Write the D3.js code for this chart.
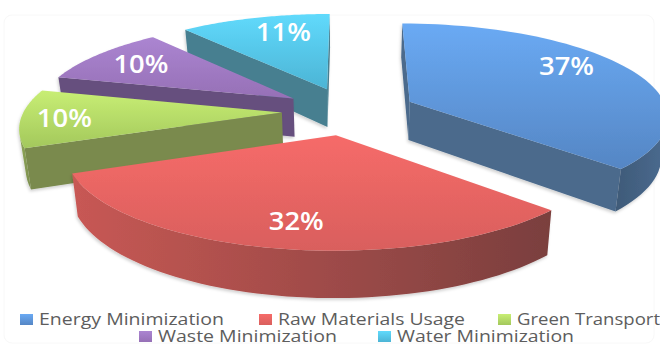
<!DOCTYPE html>
<html>
<head>
<meta charset="utf-8">
<script src="https://cdn.jsdelivr.net/npm/d3@7"></script>
<style>
html,body{margin:0;padding:0;background:#fff;overflow:hidden}
svg{display:block}
</style>
</head>
<body>
<svg id="chart" width="660" height="347"></svg>
<script>
// Share of each green-process category, in percent
const categories = ["Energy Minimization", "Raw Materials Usage", "Green Transport", "Waste Minimization", "Water Minimization"];
const shares = [37, 32, 10, 10, 11];

// Face colours per category
const topLight = ["#6aaaf4", "#f66b69", "#c8ee74", "#ab85d1", "#60dafc"];
const topDark = ["#5586c4", "#d95f5d", "#a3c85c", "#9670b6", "#4cb4d5"];
const rimStart = ["#4a6b90", "#7a3f3e", "#7a8c4e", "#6a5180", "#467e8f"];
const rimEnd = ["#3f5a78", "#c85854", "#8fa856", "#6a5180", "#467e8f"];
const flank = ["#4b6a8c", "#8a4444", "#7a8a4e", "#66507e", "#477f90"];

// Legend rows
const legendRow = [0, 0, 0, 1, 1];
const legendSwatchX = [20, 259, 498, 139, 378];
const legendTextWidth = [185, 187, 143, 179, 177];

const width = 660, height = 347;

// Camera: a tilted disc seen in perspective, unit radius in plan
const centre = { x: 349, y: 111 };
const scaleX = 258, scaleY = 91.6, recede = 0.141, wallDrop = 39, wallTaper = 0.98;
const explode = 0.26;
const labelRadius = [0.79, 0.78, 0.834, 0.774, 0.764];
const labelTurn = [-9, -1.5, -0.7, 0.4, 4.5];

// World plane: x right, y toward the viewer, angle clockwise from the back
function project(x, y, lowered) {
  const s = 1 / (1 - recede * y);
  const taper = lowered ? wallTaper : 1;
  return [
    centre.x + scaleX * x * s * taper,
    centre.y + scaleY * y * s + (lowered ? wallDrop * s : 0)
  ];
}

const svg = d3.select("#chart");
const defs = svg.append("defs");

const shadow = defs.append("filter").attr("id", "soft")
  .attr("x", "-10%").attr("y", "-10%").attr("width", "120%").attr("height", "125%");
shadow.append("feDropShadow").attr("dx", -1).attr("dy", 2).attr("stdDeviation", 1.6)
  .attr("flood-color", "#000").attr("flood-opacity", 0.18);

categories.forEach((c, i) => {
  const g = defs.append("linearGradient").attr("id", "face" + i)
    .attr("x1", 0).attr("y1", 0).attr("x2", 0).attr("y2", 1);
  g.append("stop").attr("offset", 0).attr("stop-color", topLight[i]);
  g.append("stop").attr("offset", 1).attr("stop-color", topDark[i]);

  // Outer wall shading runs across the slice, right to left
  const r = defs.append("linearGradient").attr("id", "rim" + i)
    .attr("x1", 1).attr("y1", 0).attr("x2", 0).attr("y2", 0);
  r.append("stop").attr("offset", 0).attr("stop-color", rimStart[i]);
  r.append("stop").attr("offset", 1).attr("stop-color", rimEnd[i]);
});

svg.append("rect").attr("width", width).attr("height", height).attr("fill", "#fff");
svg.append("rect").attr("x", 4).attr("y", 15).attr("width", 650).attr("height", 328).attr("rx", 8)
  .attr("fill", "#fff").attr("stroke", "#f8f8f8");

const slices = d3.pie().sort(null).value(d => d)(shares).map((d, i) => {
  const mid = (d.startAngle + d.endAngle) / 2;
  return {
    i,
    a0: d.startAngle,
    a1: d.endAngle,
    mid,
    ox: explode * Math.sin(mid),
    oy: -explode * Math.cos(mid)
  };
});

const rimPoint = (s, a) => [s.ox + Math.sin(a), s.oy - Math.cos(a)];
const closed = d3.line().curve(d3.curveLinearClosed);

function wallQuad(p, q) {
  return [
    project(p[0], p[1], false), project(q[0], q[1], false),
    project(q[0], q[1], true), project(p[0], p[1], true)
  ];
}

// Paint back to front: cyan, purple, green, blue, then the near red slice
const paintOrder = [4, 3, 2, 0, 1];

const pieGroup = svg.append("g");
paintOrder.forEach(i => {
  const s = slices[i];
  const g = pieGroup.append("g").attr("filter", "url(#soft)");
  const apex = [s.ox, s.oy];
  const steps = d3.range(0, 61).map(k => s.a0 + (s.a1 - s.a0) * k / 60);

  // Only walls turned toward the viewer are drawn
  const flat = (p, q) => {
    const quad = wallQuad(p, q);
    if (d3.polygonArea(quad) > 0) {
      g.append("path").attr("d", closed(quad)).attr("fill", flank[i]);
    }
  };
  flat(apex, rimPoint(s, s.a0));
  flat(rimPoint(s, s.a1), apex);

  // The visible stretch of the outer wall becomes one shape so its shading stays smooth
  const facing = steps.slice(1).map((a, k) => [steps[k], a])
    .filter(([a, b]) => d3.polygonArea(wallQuad(rimPoint(s, a), rimPoint(s, b))) > 0);
  if (facing.length) {
    const angles = [facing[0][0]].concat(facing.map(f => f[1]));
    const upper = angles.map(a => { const p = rimPoint(s, a); return project(p[0], p[1], false); });
    const lower = angles.map(a => { const p = rimPoint(s, a); return project(p[0], p[1], true); }).reverse();
    g.append("path").attr("d", closed(upper.concat(lower))).attr("fill", `url(#rim${i})`);
  }

  const outline = [project(apex[0], apex[1], false)]
    .concat(steps.map(a => {
      const p = rimPoint(s, a);
      return project(p[0], p[1], false);
    }));
  g.append("path").attr("d", closed(outline)).attr("fill", `url(#face${i})`);
});

// Percentage labels sit on the slice tops
slices.forEach(s => {
  const a = s.mid + labelTurn[s.i] * Math.PI / 180;
  const r = labelRadius[s.i];
  const p = project(s.ox + r * Math.sin(a), s.oy - r * Math.cos(a), false);
  svg.append("text").attr("x", p[0]).attr("y", p[1] + 9)
    .attr("text-anchor", "middle")
    .attr("font-family", "'Open Sans'").attr("font-weight", 600).attr("font-size", 25)
    .attr("textLength", 55).attr("lengthAdjust", "spacingAndGlyphs")
    .attr("fill", "#fff")
    .text(d3.format(".0f")(shares[s.i]) + "%");
});

// Two-row legend
const rowY = [319, 336];
categories.forEach((c, i) => {
  const y = rowY[legendRow[i]];
  const x = legendSwatchX[i];
  svg.append("rect").attr("x", x).attr("y", y - 5).attr("width", 13).attr("height", 11)
    .attr("fill", `url(#face${i})`);
  svg.append("text").attr("x", x + 19).attr("y", y + 6)
    .attr("font-family", "'Open Sans'").attr("font-size", 16.5)
    .attr("textLength", legendTextWidth[i]).attr("lengthAdjust", "spacingAndGlyphs")
    .attr("fill", "#5d5d5d")
    .text(c);
});
</script>
</body>
</html>
